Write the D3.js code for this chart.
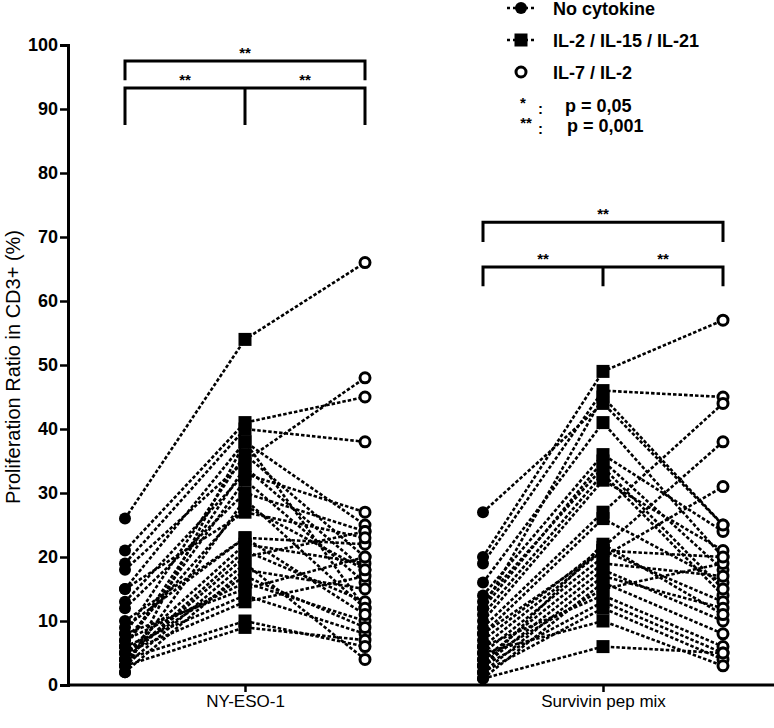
<!DOCTYPE html>
<html><head><meta charset="utf-8">
<script src="https://cdn.jsdelivr.net/npm/d3@7"></script>
<style>body{margin:0;background:#fff}svg{display:block}text{font-family:"Liberation Sans",Arial,sans-serif}</style>
</head><body><svg id="c" width="774" height="728"></svg>
<script>
const groups = ["NY-ESO-1", "Survivin pep mix"];
const conditions = ["No cytokine", "IL-2 / IL-15 / IL-21", "IL-7 / IL-2"];
const yTicks = [0,10,20,30,40,50,60,70,80,90,100];
// per patient: [no cytokine, IL-2/15/21, IL-7/IL-2]
const nyEso = [
 [26,54,66],[21,41,45],[19,40,38],[18,35,48],[15,38,25],[13,33,27],[12,30,24],
 [10,23,22],[8,36,20],[7,28,18],[6,32,16],[5,22,19],[4,20,24],[3,29,12],
 [2,18,15],[7,16,10],[6,14,8],[5,13,17],[4,21,13],[3,9,7],[4,10,6],[3,19,4],
 [5,17,9],[8,15,20],[6,34,18],[2,38,12],[9,23,11],[15,27,23]
];
const survivin = [
 [27,44,25],[20,49,57],[19,46,45],[16,41,20],[14,36,24],[12,35,18],[11,33,14],
 [10,32,21],[9,27,44],[8,26,16],[7,21.5,38],[6,21,13],[5,20,31],[4,19,17],
 [3,18,10],[2,17,12],[1,16,8],[4,15,19],[6,14,6],[3,13,5],[2,12,4],[5,10,3],
 [1,6,5],[13,34,15],[8,21,20],[12,45,25],[3,22,11]
];
const groupData = [nyEso, survivin];
const sigLabels = ["**","**","**"];
const pLegend = [["*","p = 0,05"],["**","p = 0,001"]];

const svg = d3.select("#c");
const y = d3.scaleLinear().domain([0,100]).range([685,45]);
const gx = d3.scaleBand().domain(groups).range([66,782]);
const cx = d3.scalePoint().domain(conditions).range([-120,120]);
const X = (g,c) => gx(g) + gx.bandwidth()/2 + cx(c);

// axes
const yAxis = d3.axisLeft(y).tickValues(yTicks).tickSize(8).tickPadding(2);
const ya = svg.append("g").attr("transform","translate(68,0)").call(yAxis);
ya.select(".domain").attr("stroke-width",3);
ya.selectAll(".tick line").attr("stroke-width",2.5);
ya.selectAll(".tick text").attr("font-size",18).attr("font-weight","bold").attr("fill","#000");

const xAxis = d3.axisBottom(d3.scalePoint().domain(groups).range([gx(groups[0])+gx.bandwidth()/2, gx(groups[1])+gx.bandwidth()/2])).tickSize(7).tickPadding(3).tickSizeOuter(0);
const xa = svg.append("g").attr("transform","translate(0,685)").call(xAxis);
xa.select(".domain").attr("d","M67,0H774").attr("stroke-width",3);
xa.selectAll(".tick line").attr("stroke-width",2.5);
xa.selectAll(".tick text").attr("font-size",17).attr("fill","#000");

svg.append("text").attr("transform","translate(20,367) rotate(-90)").attr("text-anchor","middle")
  .attr("font-size",20).text("Proliferation Ratio in CD3+ (%)");

// lines and markers
groups.forEach((g,gi)=>{
  const data = groupData[gi];
  const line = d3.line().x((d,i)=>X(g,conditions[i])).y(d=>y(d));
  const gg = svg.append("g");
  gg.selectAll("path.l").data(data).join("path").attr("d",line)
    .attr("fill","none").attr("stroke","#000").attr("stroke-width",2.6).attr("stroke-dasharray","3.5,2");
  gg.selectAll("circle.a").data(data).join("circle").attr("cx",X(g,conditions[0])).attr("cy",d=>y(d[0])).attr("r",6).attr("fill","#000");
  gg.selectAll("rect.b").data(data).join("rect").attr("x",X(g,conditions[1])-6.5).attr("y",d=>y(d[1])-6.5).attr("width",13).attr("height",13).attr("fill","#000");
  gg.selectAll("circle.c").data(data).join("circle").attr("cx",X(g,conditions[2])).attr("cy",d=>y(d[2])).attr("r",5).attr("fill","#fff").attr("stroke","#000").attr("stroke-width",3);
});

// significance brackets
const brackets = [
  {g:0, top:y(97.5), leg:y(94.5), low:y(93.3), lowLeg:y(87.5)},
  {g:1, top:y(72.3), leg:y(69.2), low:y(65.3), lowLeg:y(62.3)}
];
brackets.forEach(b=>{
  const g = groups[b.g];
  const x0 = X(g,conditions[0]), x1 = X(g,conditions[1]), x2 = X(g,conditions[2]);
  const s = svg.append("g").attr("fill","none").attr("stroke","#000").attr("stroke-width",3);
  s.append("path").attr("d",`M${x0},${b.leg}V${b.top}H${x2}V${b.leg}`);
  s.append("path").attr("d",`M${x0},${b.lowLeg}V${b.low}H${x2}V${b.lowLeg}M${x1},${b.low}V${b.lowLeg}`);
  svg.append("text").attr("x",x1).attr("y",b.top-3).attr("text-anchor","middle").attr("font-size",15).attr("font-weight","bold").text(sigLabels[0]);
  svg.append("text").attr("x",(x0+x1)/2).attr("y",b.low-3).attr("text-anchor","middle").attr("font-size",15).attr("font-weight","bold").text(sigLabels[1]);
  svg.append("text").attr("x",(x1+x2)/2).attr("y",b.low-3).attr("text-anchor","middle").attr("font-size",15).attr("font-weight","bold").text(sigLabels[2]);
});

// legend
const lg = svg.append("g");
const ly = [8,40,72];
conditions.forEach((c,i)=>{
  const row = lg.append("g").attr("transform",`translate(0,${ly[i]})`);
  if(i<2) row.append("line").attr("x1",507).attr("x2",535).attr("stroke","#000").attr("stroke-width",2.6).attr("stroke-dasharray","3,3");
  if(i===0) row.append("circle").attr("cx",521).attr("r",6).attr("fill","#000");
  if(i===1) row.append("rect").attr("x",514.5).attr("y",-6.5).attr("width",13).attr("height",13).attr("fill","#000");
  if(i===2) row.append("circle").attr("cx",521).attr("r",5).attr("fill","#fff").attr("stroke","#000").attr("stroke-width",3);
  row.append("text").attr("x",553).attr("y",7).attr("font-size",18).attr("font-weight","bold").text(c);
});
pLegend.forEach((p,i)=>{
  const yy = [112,132][i];
  lg.append("text").attr("x",[523,526][i]).attr("y",yy-4).attr("text-anchor","middle").attr("font-size",15).attr("font-weight","bold").text(p[0]);
  lg.append("text").attr("x",538).attr("y",yy+2).attr("font-size",15).attr("font-weight","bold").text(":");
  lg.append("text").attr("x",565+ i*2).attr("y",yy).attr("font-size",18).attr("font-weight","bold").text(p[1]);
});
</script></body></html>
